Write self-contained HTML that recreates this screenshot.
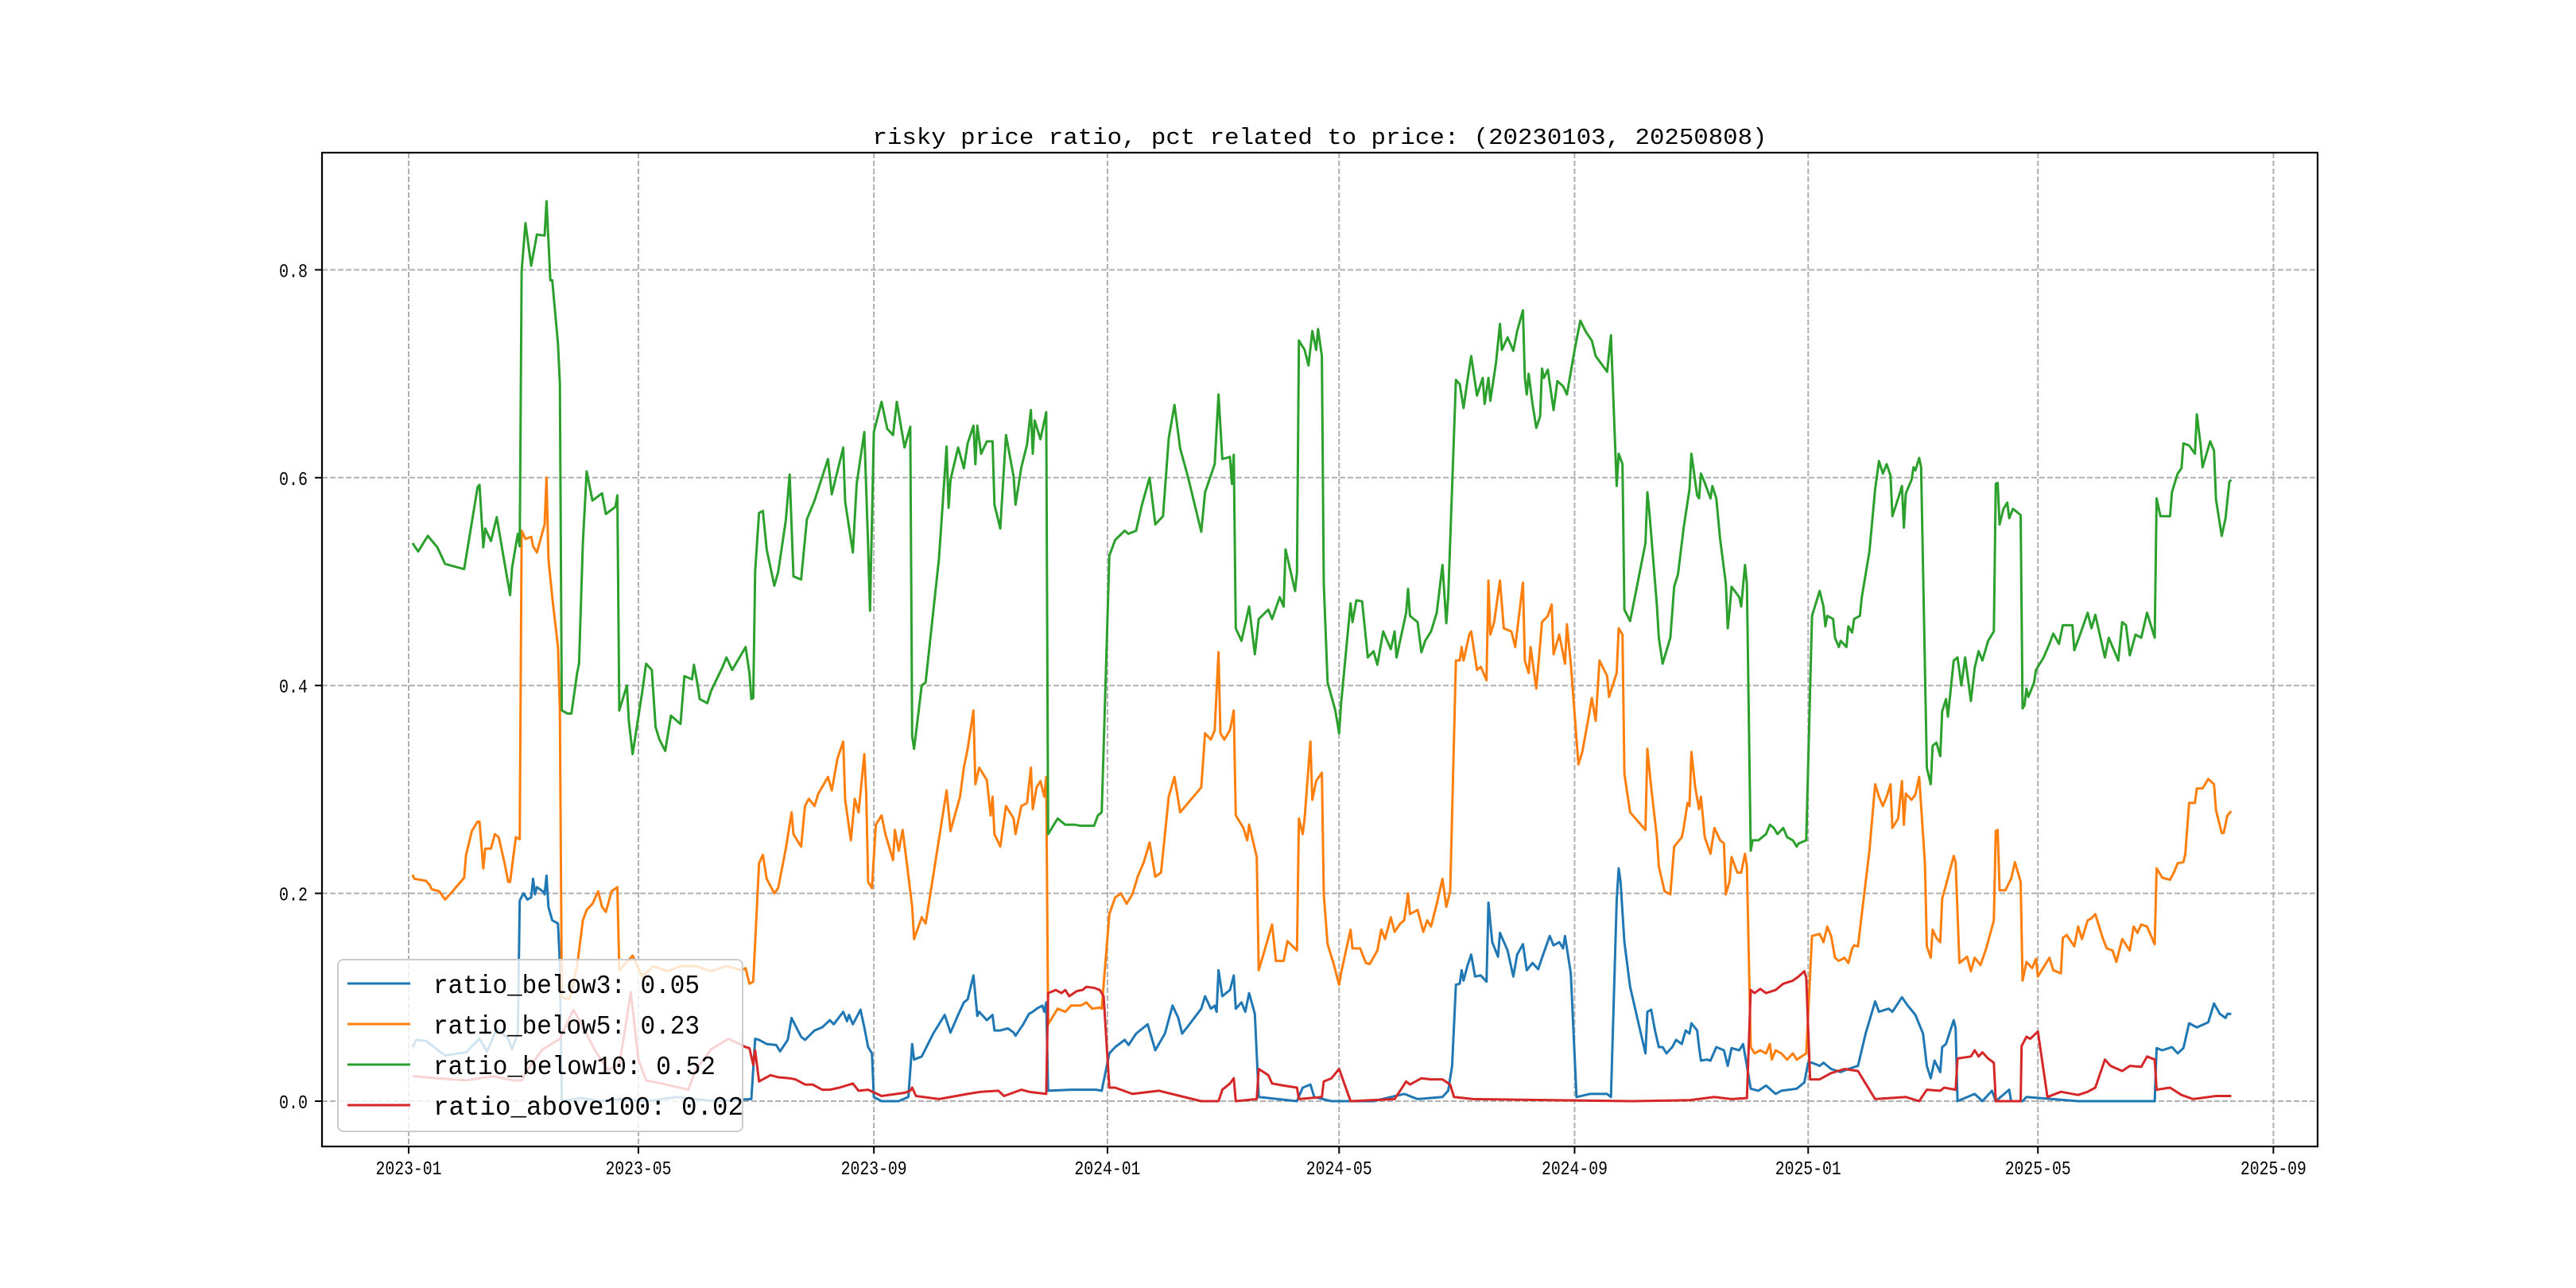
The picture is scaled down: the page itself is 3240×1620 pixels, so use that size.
<!DOCTYPE html>
<html><head><meta charset="utf-8"><title>risky price ratio</title>
<style>
html,body{margin:0;padding:0;background:#fff;}
svg{display:block;}
</style></head>
<body>
<svg id="chart" width="3240" height="1620" viewBox="0 0 3240 1620" xmlns="http://www.w3.org/2000/svg">
<rect x="0" y="0" width="3240" height="1620" fill="#fff"/>
<g id="grid"></g>
<g id="series"></g>
<g id="axes"></g>
<text x="1660" y="181" text-anchor="middle" font-family="Liberation Mono, monospace" font-size="29" textLength="1125" lengthAdjust="spacingAndGlyphs" fill="#000">risky price ratio, pct related to price: (20230103, 20250808)</text>
<g id="legend"></g>
</svg>
<script>
// ---- data (x = days since 2023-01-01, y = ratio) ----
const xTickLabels = ["2023-01","2023-05","2023-09","2024-01","2024-05","2024-09","2025-01","2025-05","2025-09"];
const xTickDays = [0,120,243,365,486,609,731,851,974];
const yTickValues = [0,0.2,0.4,0.6,0.8];
const yTickLabels = ["0.0","0.2","0.4","0.6","0.8"];
const seriesNames = ["ratio_below3","ratio_below5","ratio_below10","ratio_above100"];
const lastValues = ["0.05","0.23","0.52","0.02"];

const below3 = [[2,.052],[4,.059],[9,.058],[19,.044],[30,.047],[37,.06],[41,.048],[46,.070],[52,.06],[54,.05],[57,.065],[58,.193],[60,.200],[62,.194],[64,.196],[65,.214],[66,.199],[67,.206],[70,.202],[71,.199],[72,.217],[73,.187],[75,.174],[78,.171],[79,.132],[80,.0],[90,.003],[100,.0],[110,.002],[125,.0],[140,.004],[160,.0],[179,.002],[181,.060],[183,.059],[187,.055],[192,.054],[194,.048],[198,.059],[200,.080],[205,.062],[207,.059],[212,.068],[216,.071],[220,.078],[222,.074],[227,.086],[229,.077],[230,.083],[232,.074],[236,.088],[238,.071],[240,.052],[242,.046],[243,.004],[247,.0],[256,.0],[261,.004],[263,.055],[264,.040],[268,.043],[274,.065],[280,.083],[283,.066],[287,.083],[290,.095],[292,.098],[295,.121],[297,.082],[298,.086],[302,.078],[305,.083],[306,.068],[309,.068],[313,.070],[316,.066],[317,.063],[321,.074],[324,.084],[326,.086],[328,.089],[331,.092],[332,.086],[333,.095],[334,.010],[346,.011],[359,.011],[362,.010],[366,.046],[369,.052],[374,.059],[376,.054],[380,.065],[386,.074],[390,.049],[395,.065],[399,.092],[402,.080],[404,.065],[407,.072],[414,.089],[416,.101],[419,.089],[421,.092],[422,.086],[423,.126],[425,.101],[429,.107],[431,.121],[432,.089],[435,.095],[437,.086],[439,.104],[442,.084],[444,.004],[464,.0],[467,.013],[471,.016],[473,.004],[482,.0],[504,.0],[513,.004],[520,.007],[527,.002],[540,.004],[543,.010],[545,.034],[547,.112],[549,.113],[550,.126],[551,.116],[553,.130],[555,.141],[557,.120],[560,.121],[563,.115],[564,.191],[566,.153],[569,.139],[570,.162],[574,.145],[577,.120],[579,.141],[582,.151],[584,.126],[587,.133],[590,.127],[592,.138],[596,.159],[598,.150],[601,.153],[603,.147],[604,.159],[607,.123],[610,.004],[617,.007],[626,.007],[628,.004],[631,.193],[632,.224],[633,.211],[635,.153],[638,.110],[646,.046],[647,.086],[649,.088],[651,.068],[653,.052],[655,.052],[657,.046],[660,.052],[662,.059],[665,.055],[667,.068],[669,.065],[670,.075],[673,.068],[674,.052],[675,.039],[678,.040],[680,.039],[683,.052],[687,.049],[689,.034],[691,.051],[695,.049],[697,.055],[699,.034],[701,.012],[705,.010],[709,.015],[714,.007],[717,.010],[721,.011],[725,.012],[729,.018],[731,.037],[733,.037],[737,.034],[739,.037],[743,.031],[748,.028],[752,.031],[757,.034],[761,.065],[766,.096],[768,.086],[773,.089],[775,.086],[780,.100],[783,.092],[787,.083],[791,.065],[793,.034],[795,.022],[797,.039],[800,.028],[801,.052],[803,.055],[807,.078],[808,.070],[809,.0],[818,.007],[822,.0],[827,.010],[829,.0],[836,.011],[837,.0],[843,.0],[845,.004],[872,.0],[912,.0],[913,.051],[916,.049],[921,.052],[924,.046],[927,.051],[930,.075],[934,.071],[940,.076],[943,.094],[946,.084],[949,.080],[950,.084],[952,.084]];

const below5 = [[2,.218],[3,.214],[9,.212],[11,.208],[12,.204],[16,.202],[19,.194],[22,.200],[29,.215],[30,.237],[33,.260],[36,.269],[37,.269],[39,.224],[40,.243],[43,.243],[45,.257],[47,.254],[50,.230],[52,.211],[53,.211],[56,.254],[58,.252],[59,.549],[61,.541],[64,.543],[65,.534],[67,.528],[71,.555],[72,.600],[73,.522],[75,.485],[78,.437],[79,.376],[80,.100],[84,.098],[88,.130],[91,.174],[93,.184],[96,.190],[99,.202],[101,.187],[103,.182],[106,.202],[109,.206],[110,.126],[112,.130],[117,.140],[122,.120],[128,.130],[135,.125],[142,.130],[150,.130],[158,.125],[166,.130],[174,.126],[176,.128],[178,.113],[180,.115],[183,.229],[185,.237],[187,.214],[191,.200],[193,.205],[197,.243],[200,.278],[201,.257],[205,.245],[207,.284],[209,.291],[212,.284],[214,.296],[219,.312],[221,.299],[224,.330],[227,.346],[228,.290],[231,.251],[233,.291],[235,.278],[238,.334],[239,.296],[240,.211],[242,.205],[244,.266],[247,.275],[249,.257],[253,.232],[254,.261],[256,.241],[258,.261],[260,.232],[263,.187],[264,.156],[268,.177],[270,.171],[274,.217],[281,.299],[283,.260],[288,.293],[290,.321],[292,.339],[295,.376],[296,.305],[298,.321],[302,.309],[304,.275],[305,.293],[306,.257],[309,.245],[312,.284],[316,.272],[317,.257],[320,.284],[323,.287],[325,.321],[326,.281],[328,.302],[330,.308],[332,.293],[333,.312],[334,.074],[339,.089],[343,.086],[346,.092],[351,.092],[354,.095],[357,.089],[361,.090],[362,.089],[366,.180],[369,.196],[372,.200],[375,.190],[378,.199],[381,.217],[384,.230],[387,.249],[390,.216],[393,.220],[397,.293],[400,.312],[403,.278],[414,.302],[416,.354],[419,.348],[421,.357],[423,.432],[424,.354],[426,.348],[429,.357],[431,.376],[432,.275],[436,.263],[438,.251],[439,.266],[443,.235],[444,.126],[448,.151],[451,.170],[453,.135],[457,.135],[459,.154],[464,.145],[465,.272],[467,.257],[468,.272],[471,.346],[472,.290],[474,.308],[477,.316],[478,.199],[480,.151],[483,.133],[486,.112],[487,.123],[492,.165],[493,.147],[497,.147],[500,.133],[502,.132],[506,.145],[508,.165],[510,.156],[513,.177],[515,.163],[518,.171],[520,.174],[522,.200],[523,.180],[527,.184],[530,.163],[532,.174],[534,.168],[537,.190],[540,.214],[542,.187],[544,.202],[547,.424],[549,.424],[550,.437],[551,.424],[554,.449],[555,.452],[558,.415],[560,.418],[563,.405],[564,.501],[565,.449],[567,.461],[570,.501],[572,.455],[576,.452],[578,.437],[582,.499],[583,.424],[585,.412],[586,.437],[589,.397],[592,.461],[595,.467],[597,.478],[598,.430],[601,.449],[604,.421],[605,.459],[607,.421],[611,.324],[613,.336],[616,.366],[618,.388],[620,.366],[622,.424],[626,.409],[627,.389],[631,.412],[632,.455],[634,.449],[635,.315],[638,.278],[646,.261],[647,.339],[649,.302],[652,.254],[653,.226],[656,.202],[659,.199],[661,.245],[665,.254],[666,.263],[668,.287],[669,.284],[670,.336],[672,.302],[674,.281],[675,.293],[677,.254],[680,.238],[682,.263],[685,.251],[687,.248],[688,.199],[690,.212],[691,.235],[694,.220],[696,.220],[698,.238],[699,.226],[701,.052],[703,.046],[706,.049],[709,.046],[711,.055],[712,.040],[714,.049],[717,.046],[720,.040],[723,.046],[725,.040],[730,.046],[733,.159],[737,.161],[739,.153],[741,.168],[743,.159],[745,.138],[747,.135],[750,.138],[752,.133],[754,.147],[755,.150],[757,.149],[759,.180],[763,.241],[766,.305],[768,.293],[770,.284],[772,.293],[774,.305],[775,.263],[778,.272],[780,.308],[781,.266],[782,.296],[785,.290],[787,.295],[789,.312],[792,.229],[793,.149],[795,.138],[796,.165],[798,.157],[800,.153],[801,.195],[803,.208],[807,.236],[808,.230],[810,.133],[812,.136],[814,.139],[816,.125],[818,.138],[821,.131],[824,.147],[828,.174],[829,.260],[830,.261],[831,.203],[834,.203],[837,.214],[839,.230],[842,.211],[843,.116],[845,.134],[848,.128],[850,.137],[851,.120],[857,.138],[859,.126],[863,.123],[864,.157],[866,.160],[870,.149],[872,.168],[874,.156],[877,.174],[879,.176],[881,.180],[885,.156],[887,.147],[890,.145],[892,.134],[895,.156],[899,.145],[901,.168],[903,.162],[905,.170],[908,.168],[912,.151],[913,.224],[916,.215],[920,.213],[922,.220],[924,.229],[927,.230],[928,.238],[930,.287],[933,.287],[934,.301],[937,.301],[940,.310],[943,.305],[944,.280],[947,.258],[948,.258],[950,.275],[952,.279]];

const below10 = [[2,.537],[5,.529],[10,.544],[15,.533],[19,.517],[29,.512],[32,.546],[36,.591],[37,.593],[39,.533],[40,.551],[43,.539],[46,.562],[50,.519],[53,.487],[54,.513],[57,.546],[58,.534],[59,.799],[61,.845],[64,.804],[67,.834],[71,.833],[72,.866],[74,.790],[75,.790],[78,.729],[79,.690],[80,.376],[83,.373],[85,.373],[88,.412],[89,.421],[91,.537],[93,.606],[96,.578],[101,.585],[103,.565],[108,.572],[109,.583],[110,.376],[114,.400],[115,.366],[117,.334],[122,.394],[124,.421],[127,.415],[129,.360],[131,.348],[134,.337],[137,.371],[142,.363],[144,.409],[148,.406],[149,.420],[151,.400],[152,.387],[156,.383],[158,.395],[164,.418],[166,.427],[169,.415],[176,.437],[178,.412],[179,.387],[180,.388],[181,.510],[183,.566],[185,.568],[187,.531],[191,.496],[193,.509],[197,.559],[199,.603],[201,.505],[205,.502],[208,.560],[212,.578],[219,.618],[221,.584],[227,.629],[228,.577],[232,.528],[234,.594],[238,.644],[240,.534],[241,.472],[243,.644],[247,.673],[250,.647],[253,.641],[255,.673],[259,.629],[262,.649],[263,.351],[264,.339],[268,.400],[270,.403],[277,.522],[281,.630],[282,.571],[283,.598],[287,.629],[290,.609],[292,.633],[295,.650],[296,.613],[297,.650],[299,.623],[302,.635],[305,.635],[306,.574],[309,.551],[312,.641],[316,.601],[317,.574],[320,.610],[323,.632],[325,.665],[326,.623],[327,.655],[330,.637],[333,.663],[334,.257],[339,.272],[343,.266],[348,.266],[351,.265],[358,.265],[360,.275],[362,.278],[366,.525],[369,.540],[374,.549],[376,.546],[380,.549],[383,.574],[387,.600],[390,.555],[394,.563],[397,.638],[400,.670],[403,.628],[407,.601],[414,.548],[416,.586],[421,.613],[423,.680],[425,.618],[429,.620],[430,.594],[431,.622],[432,.455],[435,.443],[439,.476],[442,.430],[444,.464],[449,.473],[451,.464],[455,.485],[457,.476],[458,.531],[463,.491],[464,.509],[465,.732],[468,.723],[470,.708],[472,.741],[474,.723],[475,.743],[477,.717],[478,.498],[480,.403],[484,.376],[486,.354],[487,.382],[492,.479],[493,.461],[495,.482],[498,.481],[501,.427],[504,.433],[506,.420],[509,.452],[513,.435],[515,.452],[516,.427],[521,.470],[522,.493],[523,.467],[527,.461],[529,.432],[531,.443],[534,.452],[537,.470],[540,.516],[542,.460],[543,.485],[547,.694],[549,.690],[551,.667],[553,.693],[555,.717],[558,.679],[561,.696],[562,.671],[564,.696],[565,.674],[568,.711],[570,.748],[571,.723],[574,.735],[577,.722],[579,.741],[582,.761],[583,.696],[584,.680],[585,.700],[587,.671],[589,.648],[591,.659],[592,.705],[593,.696],[595,.704],[598,.665],[600,.693],[603,.688],[605,.680],[609,.723],[612,.751],[615,.740],[618,.732],[620,.717],[626,.702],[628,.737],[631,.592],[632,.623],[634,.613],[635,.473],[638,.462],[646,.537],[647,.586],[648,.568],[652,.477],[653,.446],[655,.421],[659,.446],[661,.495],[663,.507],[666,.552],[669,.589],[670,.623],[673,.583],[674,.580],[675,.604],[677,.595],[680,.580],[681,.592],[683,.580],[685,.541],[688,.498],[689,.455],[690,.473],[691,.495],[695,.485],[696,.476],[698,.516],[699,.498],[701,.241],[702,.251],[705,.251],[709,.257],[711,.266],[713,.263],[715,.257],[718,.263],[720,.254],[723,.251],[725,.245],[726,.248],[730,.251],[733,.467],[737,.491],[739,.476],[740,.457],[741,.467],[744,.464],[745,.446],[747,.437],[748,.443],[751,.437],[752,.457],[754,.451],[755,.464],[758,.467],[759,.485],[763,.529],[766,.589],[768,.616],[770,.604],[772,.613],[774,.602],[775,.563],[778,.580],[780,.592],[781,.552],[782,.585],[785,.598],[786,.610],[787,.607],[789,.619],[790,.610],[793,.321],[795,.305],[796,.342],[798,.345],[800,.332],[801,.375],[803,.387],[804,.370],[807,.424],[809,.427],[811,.400],[813,.427],[816,.385],[818,.417],[820,.433],[822,.424],[825,.443],[828,.452],[829,.594],[830,.595],[831,.555],[833,.570],[835,.576],[836,.561],[838,.570],[842,.564],[843,.378],[844,.381],[845,.397],[846,.389],[849,.403],[850,.415],[854,.427],[857,.440],[859,.450],[862,.440],[864,.458],[869,.458],[870,.434],[873,.449],[877,.470],[879,.455],[881,.468],[886,.427],[888,.446],[893,.424],[895,.461],[897,.458],[899,.429],[902,.449],[905,.446],[908,.470],[912,.446],[913,.580],[915,.563],[920,.563],[921,.586],[924,.604],[926,.609],[927,.633],[930,.631],[933,.623],[934,.661],[936,.631],[937,.610],[941,.635],[943,.626],[944,.579],[947,.544],[949,.561],[951,.596],[952,.598]];

const above100 = [[2,.024],[15,.022],[30,.020],[44,.024],[55,.020],[59,.020],[62,.030],[70,.050],[79,.060],[86,.088],[90,.075],[97,.050],[104,.030],[110,.035],[114,.080],[116,.105],[120,.040],[124,.020],[132,.017],[146,.011],[150,.030],[158,.050],[167,.060],[174,.054],[176,.052],[178,.051],[180,.035],[181,.049],[183,.019],[185,.021],[189,.025],[193,.023],[199,.022],[202,.021],[207,.016],[211,.016],[216,.011],[220,.011],[225,.013],[232,.017],[235,.010],[240,.011],[247,.005],[259,.008],[262,.010],[263,.013],[265,.005],[277,.002],[292,.007],[299,.009],[308,.010],[311,.005],[320,.011],[324,.009],[333,.007],[334,.104],[338,.107],[341,.104],[343,.107],[345,.101],[349,.106],[352,.107],[354,.110],[358,.109],[361,.107],[363,.101],[366,.013],[369,.013],[378,.007],[392,.010],[403,.005],[414,.0],[423,.0],[425,.011],[429,.017],[431,.022],[432,.0],[443,.002],[444,.031],[449,.025],[451,.017],[457,.015],[464,.013],[465,.002],[477,.004],[478,.019],[482,.022],[486,.031],[492,.0],[515,.002],[521,.019],[523,.016],[529,.022],[534,.021],[540,.021],[544,.016],[546,.004],[556,.002],[639,.0],[669,.001],[682,.004],[691,.002],[699,.003],[701,.107],[703,.104],[706,.108],[709,.104],[714,.107],[718,.113],[723,.116],[726,.120],[729,.125],[730,.119],[732,.021],[737,.021],[743,.027],[750,.031],[757,.029],[761,.017],[766,.002],[782,.004],[789,.0],[793,.011],[800,.010],[802,.013],[808,.011],[809,.041],[816,.043],[818,.049],[820,.043],[822,.047],[825,.041],[828,.037],[829,.0],[842,.0],[842.5,.053],[845,.062],[847,.060],[851,.067],[856,.004],[863,.009],[872,.006],[877,.009],[881,.013],[886,.040],[889,.034],[895,.029],[899,.034],[905,.033],[908,.043],[912,.040],[913,.011],[920,.013],[926,.006],[932,.002],[940,.004],[944,.005],[952,.005]];

// ---- layout ----
const AX = {left:405, right:2915, top:192, bottom:1442};
const X0 = 514, PXDAY = 2.408;      // 2023-01-01 position & px/day
const Y0 = 1385, PXUNIT = 1307;     // value 0 position & px/unit
function xScale(d){ return X0 + d*PXDAY; }
function yScale(v){ return Y0 - v*PXUNIT; }
const NS = "http://www.w3.org/2000/svg";
function mk(tag, attrs, parent){
  const e = document.createElementNS(NS, tag);
  for (const k in attrs) e.setAttribute(k, attrs[k]);
  parent.appendChild(e); return e;
}
const grid = document.getElementById('grid');
const axes = document.getElementById('axes');
const seriesG = document.getElementById('series');
const legend = document.getElementById('legend');

// grid + x ticks
xTickDays.forEach((d,i)=>{
  const x = xScale(d);
  const gl = mk('line',{x1:x,y1:AX.top,x2:x,y2:AX.bottom,stroke:'#b0b0b0','stroke-width':2,'stroke-dasharray':'7,3'},grid);
  
  
  const tk = mk('line',{x1:x,y1:AX.bottom,x2:x,y2:AX.bottom+9,stroke:'#000','stroke-width':2},axes);
  
  
  const t = mk('text',{x:x,y:AX.bottom+35,'text-anchor':'middle','font-family':'Liberation Mono, monospace','font-size':24,textLength:83,lengthAdjust:'spacingAndGlyphs',fill:'#000'},axes);
  t.textContent = xTickLabels[i];
  
  
});
// grid + y ticks
yTickValues.forEach((v,i)=>{
  const y = yScale(v);
  const gl = mk('line',{x1:AX.left,y1:y,x2:AX.right,y2:y,stroke:'#b0b0b0','stroke-width':2,'stroke-dasharray':'7,3'},grid);
  
  
  const tk = mk('line',{x1:AX.left-9,y1:y,x2:AX.left,y2:y,stroke:'#000','stroke-width':2},axes);
  
  
  const t = mk('text',{x:AX.left-18,y:y+9,'text-anchor':'end','font-family':'Liberation Mono, monospace','font-size':24,textLength:36,lengthAdjust:'spacingAndGlyphs',fill:'#000'},axes);
  t.textContent = yTickLabels[i];
  
  
});
// frame
const frame = mk('rect',{x:AX.left,y:AX.top,width:AX.right-AX.left,height:AX.bottom-AX.top,fill:'none',stroke:'#000','stroke-width':2.2},axes);



// series
const allSeries = [below3, below5, below10, above100];
const colors = ['#1f77b4','#ff7f0e','#2ca02c','#d62728'];
const lineNames = ['line-below3','line-below5','line-below10','line-above100'];
allSeries.forEach((s,i)=>{
  const d = s.map((p,j)=>(j?'L':'M')+xScale(p[0]).toFixed(1)+','+yScale(p[1]).toFixed(1)).join(' ');
  const p = mk('path',{d:d,fill:'none',stroke:colors[i],'stroke-width':3,'stroke-linejoin':'round'},seriesG);
  
  
});

// legend
const lb = mk('rect',{x:425,y:1207,width:509,height:216,rx:7,ry:7,fill:'#fff','fill-opacity':0.8,stroke:'#cccccc','stroke-width':2},legend);


const textLens = [335,335,355,390];
seriesNames.forEach((n,i)=>{
  const y = 1237 + i*51;
  const ln = mk('line',{x1:437,y1:y,x2:516,y2:y,stroke:colors[i],'stroke-width':3},legend);
  
  
  const t = mk('text',{x:545,y:y+12,'font-family':'Liberation Mono, monospace','font-size':33,textLength:textLens[i],lengthAdjust:'spacingAndGlyphs',fill:'#000'},legend);
  t.textContent = n + ': ' + lastValues[i];
  
  
});
</script>
</body></html>
